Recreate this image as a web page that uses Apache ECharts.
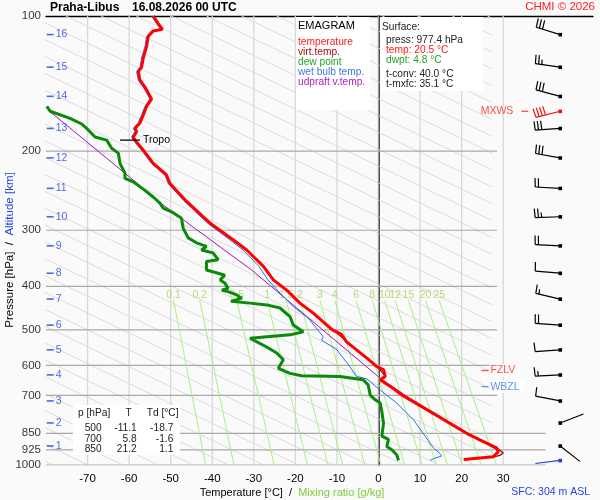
<!DOCTYPE html>
<html lang="cs">
<head>
<meta charset="utf-8">
<title>Emagram Praha-Libus</title>
<style>
  html, body { margin: 0; padding: 0; background: #fafafa; }
  #main { width: 600px; height: 500px; }
</style>
</head>
<body>
<div id="main"></div>
<script src="https://cdn.jsdelivr.net/npm/echarts@6/dist/echarts.min.js"></script>
<script>
// ---- axes / reference values ----
var TEMP_TICKS = [-70, -60, -50, -40, -30, -20, -10, 0, 10, 20, 30];
var PRESS_TICKS = [100, 200, 300, 400, 500, 600, 700, 850, 925, 1000];
var ISOBARS = [200, 300, 400, 500, 600, 700, 850, 925, 1000];
var ISOBAR_END = [28.5, 28.5, 28.5, 28.5, 28.5, 28.5, 40.2, 40.2, 40.2];
var ALT_KM = [1, 2, 3, 4, 5, 6, 7, 8, 9, 10, 11, 12, 13, 14, 15, 16];
var ALT_P = [907, 806, 720, 630, 554, 488, 427, 374, 325, 280, 242, 207, 178, 151, 130, 110];

// mixing ratio lines [g/kg], temperature at 430 hPa and at 1000 hPa
var MIX_LABELS = ['0.1', '0.2', '0.5', '1', '1.5', '2', '3', '4', '6', '8', '10', '12', '15', '20', '25'];
var MIX_TOP_T = [-49.3, -43.0, -34.1, -26.8, -22.2, -18.9, -14.1, -10.5, -5.4, -1.5, 1.5, 4.0, 7.2, 11.3, 14.6];
var MIX_BOT_T = [-41.6, -34.8, -25.1, -17.1, -12.2, -8.6, -3.3, 0.6, 6.3, 10.5, 13.9, 16.6, 20.1, 24.7, 28.4];

// sounding [T degC, p hPa]
var TEMP = [[-54.2,100],[-53,104],[-52,107],[-54.2,108],[-55.4,111],[-55.8,117],[-56.6,124],[-57,130],
  [-57.8,133],[-57.4,139],[-56.2,144],[-54.6,153],[-55.8,159],[-56.6,166],[-57.4,173],[-58.6,178],
  [-58.2,181],[-59,186],[-58.6,189],[-56.6,199],[-54.2,213],[-51,226],[-50.2,236],[-46.5,257],
  [-40.6,289],[-35,315],[-31.7,332],[-27.7,361],[-25.3,387],[-22.1,408],[-18.9,436],[-15.7,459],
  [-13.3,480],[-11.1,500],[-8.9,512],[-7.7,532],[-2.8,578],[-0.4,604],[1.2,613],[1.6,635],[0.4,646],
  [3.0,670],[5.8,700],[10.2,740],[14.4,780],[17.9,815],[21.2,850],[25,885],[28.4,916],[28.8,934],
  [27.6,959],[20.5,972]];
var VIRT = [[-18.8,436],[-11.0,500],[-0.3,604],[1.7,635],[0.5,646],[5.9,700],[21.3,850],[28.5,916],
  [29.3,928],[30.0,940],[29.2,952],[27.7,960],[21.0,973]];
var DEWP = [[-79.8,159],[-79,163],[-74.2,169],[-71.4,174],[-70.2,178],[-68.2,186],[-65.4,189],[-64.2,197],
  [-62.6,202],[-62.2,213],[-61,224],[-61,230],[-59,234],[-56.6,243],[-54.2,253],[-52.6,261],[-51.8,268],
  [-49.8,273],[-47.4,282],[-47,297],[-45.8,312],[-43.8,320],[-41.4,326],[-42.6,332],[-39.8,337],
  [-38.6,349],[-41.4,352],[-41.4,368],[-38.6,374],[-37,378],[-38.1,387],[-37,393],[-36.2,404],
  [-37.7,408],[-36.2,411],[-34.1,418],[-32.9,425],[-35.5,432],[-30.9,436],[-26.9,440],[-23.7,447],
  [-21.3,467],[-20.5,488],[-18.1,505],[-21.3,513],[-30.9,522],[-26.9,546],[-24.5,563],[-22.9,583],
  [-24.1,609],[-21.3,625],[-18.5,633],[-9.3,635],[-3.7,646],[-2.5,663],[-2.0,699],[-0.8,716],
  [0.4,728],[0.8,760],[1.2,808],[0.8,862],[2.4,877],[2.0,909],[3.2,925],[4.4,950],[4.8,977]];
var WETB = [[-54.6,100],[-53.4,104],[-52.4,107],[-54.6,108],[-55.8,111],[-56.2,117],[-57,124],[-57.4,130],
  [-58.2,133],[-57.8,139],[-56.6,144],[-55,153],[-56.2,159],[-57,166],[-57.8,173],[-59,178],[-58.6,181],
  [-59.4,186],[-59,189],[-57,199],[-54.6,213],[-51.4,226],[-50.6,236],[-47,257],[-41.2,289],[-35.8,315],
  [-32.6,332],[-28.8,361],[-26.6,387],[-23.7,414],[-20.5,444],[-17,470],[-13.3,518],[-13.7,527],
  [-10,554],[-6.9,604],[-5.3,635],[-2.8,643],[0.4,681],[4.4,728],[8.4,793],[11.2,862],[13.2,916],
  [14.8,943],[15.2,955],[13.6,965],[12.4,977]];
var PARCEL = [[-79.5,162],[-59,232],[-53.4,257],[-43.8,299],[-30.5,368],[0.4,641],[6.5,700],
  [21.5,850],[28.9,930]];

// wind barbs: pressure, speed [kt], direction [deg]
var BARB_P = [977, 907, 806, 720, 630, 554, 488, 427, 374, 325, 280, 242, 207, 178, 163, 151, 130, 110];
var BARB_KT = [2, 2, 2, 10, 15, 10, 20, 15, 10, 20, 25, 20, 30, 30, 40, 30, 25, 30];
var BARB_DIR = [263, 128, 69, 281, 267, 266, 274, 283, 275, 273, 268, 273, 280, 266, 256, 285, 278, 287];
var BARB_COLOR = ['#1f3fe0', '#000', '#000', '#000', '#000', '#000', '#000', '#000', '#000', '#000',
  '#000', '#000', '#000', '#000', '#f01010', '#000', '#000', '#000'];

var TABLE_P = [500, 700, 850];
var TABLE_T = [-11.1, 5.8, 21.2];
var TABLE_TD = [-18.7, -1.6, 1.1];

var FONT = 'Liberation Sans, Arial, sans-serif';
var BARB_T = 43.7;
var DIAG_DROP = 225, DIAG_STEP = 8.45;

// grey guide lines: temperature where each one meets 1000 hPa
var DIAG_T1000 = [];
for (var t = 251.2; t > -82; t -= DIAG_STEP) DIAG_T1000.push(t);

var chart = echarts.init(document.getElementById('main'));
var series = [];

function seg(data, color, width, opt) {
  var s = {
    type: 'line', data: data, symbol: 'none', silent: true, z: 1,
    xAxisIndex: 0, yAxisIndex: 0,
    lineStyle: { color: color, width: width }
  };
  for (var k in opt) s[k] = opt[k];
  return s;
}

// grey guide lines, clipped to the temperature zone
DIAG_T1000.forEach(function (t) {
  series.push(seg([[t, 1000], [t - DIAG_DROP, 100]], '#dcdcdc', 1, { xAxisIndex: 2, yAxisIndex: 1 }));
});
TEMP_TICKS.forEach(function (t) {
  series.push(seg([[t, 100], [t, 1000]], t === 0 ? '#9c9c9c' : '#d8d8d8', 1.3));
});
ISOBARS.forEach(function (p, i) {
  series.push(seg([[-80, p], [ISOBAR_END[i], p]], '#a9a9a9', 1.2));
});
MIX_LABELS.forEach(function (m, i) {
  series.push(seg([[MIX_TOP_T[i], 430], [MIX_BOT_T[i], 1000]], '#a8f080', 1, { z: 2 }));
});
series.push({
  type: 'scatter', silent: true, symbolSize: 0, z: 2, clip: false,
  data: MIX_LABELS.map(function (m, i) { return { value: [MIX_TOP_T[i], 418], name: m }; }),
  label: { show: true, position: 'inside', formatter: '{b}', color: '#a2d35a', fontSize: 10.5, fontFamily: FONT }
});

// profiles
series.push(seg(PARCEL, '#a414b4', 1, { z: 5 }));
series.push(seg(WETB, '#2f6fe8', 1, { z: 5 }));
series.push(seg(VIRT, '#9a0000', 1.2, { z: 5 }));
series.push(seg(DEWP, '#0a8a0a', 3, { z: 6 }));
series.push(seg(TEMP, '#ff0000', 3, { z: 6 }));

// tropopause marker
series.push(seg([[-62.2, 189], [-57.4, 189]], '#000', 1.2, {
  z: 7,
  endLabel: { show: true, formatter: 'Tropo', color: '#000', fontSize: 10.5, fontFamily: FONT, distance: 3 }
}));

// pressure labels
series.push({
  type: 'scatter', silent: true, symbolSize: 0, clip: false, z: 7,
  data: PRESS_TICKS.map(function (p) { return [-80, p]; }),
  label: { show: true, position: 'left', distance: 5, formatter: function (d) { return d.value[1]; },
    color: '#000', fontSize: 11.5, fontFamily: FONT }
});
// altitude ticks
series.push({
  type: 'scatter', silent: true, clip: false, z: 7, symbol: 'rect', symbolSize: [7, 1.6],
  itemStyle: { color: '#2244dd' },
  data: ALT_P.map(function (p, i) { return { value: [-79.0, p], name: String(ALT_KM[i]) }; }),
  label: { show: true, position: 'right', distance: 2, formatter: '{b}', color: '#2244dd', fontSize: 10.5, fontFamily: FONT }
});
// level markers
function marker(t, p, text, color, pos) {
  return {
    type: 'scatter', silent: true, clip: false, z: 8, symbol: 'rect', symbolSize: [7, 1.3],
    itemStyle: { color: color }, data: [[t, p]],
    label: { show: true, position: pos, distance: pos === 'left' ? 3 : 1, formatter: text, color: color,
      fontSize: 10.5, fontFamily: FONT, backgroundColor: pos === 'left' ? 'transparent' : '#fff', padding: [1, 5, 1, 1] }
  };
}
series.push(marker(25.6, 616, 'FZLV', '#ff2020', 'right'));
series.push(marker(25.6, 669, 'WBZL', '#3a7be0', 'right'));
series.push(marker(35.2, 163, 'MXWS', '#ff2020', 'left'));

// wind barbs
function renderBarb(params, api) {
  var pt = api.coord([api.value(0), api.value(1)]);
  var kt = api.value(2), dir = api.value(3) * Math.PI / 180;
  var color = api.visual('color');
  var ux = Math.sin(dir), uy = -Math.cos(dir);
  var fx = -uy, fy = ux;
  var L = 25, F = 9, gap = 3.3;
  var ex = pt[0] + ux * L, ey = pt[1] + uy * L;
  var st = { stroke: color, lineWidth: 1.2 };
  var children = [
    { type: 'line', shape: { x1: pt[0], y1: pt[1], x2: ex, y2: ey }, style: st },
    { type: 'rect', shape: { x: pt[0] - 1.7, y: pt[1] - 1.7, width: 3.6, height: 3.6 }, style: { fill: color } }
  ];
  var full = Math.floor(kt / 10), half = (kt % 10) >= 5 ? 1 : 0;
  var k = 0;
  for (var i = 0; i < full + half; i++) {
    var len = i < full ? F : F * 0.55;
    var bx = ex - ux * gap * k, by = ey - uy * gap * k;
    children.push({ type: 'line', shape: { x1: bx, y1: by, x2: bx + fx * len + ux * 0.6, y2: by + fy * len + uy * 0.6 }, style: st });
    k++;
  }
  return { type: 'group', children: children };
}
series.push({
  type: 'custom', silent: true, clip: false, z: 8, renderItem: renderBarb,
  data: BARB_P.map(function (p, i) {
    return { value: [BARB_T, p, BARB_KT[i], BARB_DIR[i]], itemStyle: { color: BARB_COLOR[i] } };
  })
});

// text boxes
function txt(x, y, text, color, size, opt) {
  var e = { type: 'text', x: x, y: y, z: 40, silent: true,
    style: { text: text, fill: color, fontSize: size, fontFamily: FONT, verticalAlign: 'middle', align: 'left' } };
  for (var k in opt) e.style[k] = opt[k];
  return e;
}
function box(x, y, w, h) {
  return { type: 'rect', z: 30, silent: true, shape: { x: x, y: y, width: w, height: h }, style: { fill: '#ffffff' } };
}
function fmt(v) { return v.toFixed(1); }

var graphics = [
  box(296, 17, 74, 93),
  box(380, 17, 103, 74),
  box(73, 405, 107, 50),
  txt(50, 8, 'Praha-Libus', '#000', 12, { fontWeight: 'bold' }),
  txt(132, 8, '16.08.2026 00 UTC', '#000', 12, { fontWeight: 'bold' }),
  txt(595, 7, 'CHMI \u00a9 2026', '#ff1a1a', 11.5, { align: 'right' }),
  txt(298, 26, 'EMAGRAM', '#000', 11),
  txt(298, 41.7, 'temperature', '#ff1a1a', 10.2),
  txt(298, 51.7, 'virt.temp.', '#a01010', 10.2),
  txt(298, 61.7, 'dew point', '#28a028', 10.2),
  txt(298, 71.7, 'wet bulb temp.', '#3a7be0', 10.2),
  txt(298, 81.7, 'udpraft v.temp.', '#b020c0', 10.2),
  txt(382, 27, 'Surface:', '#222', 10.2),
  txt(386, 40, 'press: 977.4 hPa', '#222', 10.2),
  txt(386, 50, 'temp: 20.5 \u00b0C', '#ff1a1a', 10.2),
  txt(386, 60, 'dwpt: 4.8 \u00b0C', '#28a028', 10.2),
  txt(386, 74, 't-conv: 40.0 \u00b0C', '#222', 10.2),
  txt(386, 84, 't-mxfc: 35.1 \u00b0C', '#222', 10.2),
  txt(78, 413.5, 'p [hPa]', '#222', 10.2),
  txt(128.7, 413.5, 'T', '#222', 10.2, { align: 'center' }),
  txt(146.7, 413.5, 'Td [\u00b0C]', '#222', 10.2),
  txt(590, 492, 'SFC: 304 m ASL', '#2244dd', 10.5, { align: 'right' }),
  {
    type: 'text', x: 292, y: 493, z: 40, silent: true,
    style: { text: '{a|Temperature [\u00b0C]  /  }{b|Mixing ratio [g/kg]}', align: 'center', verticalAlign: 'middle',
      fontSize: 11, fontFamily: FONT,
      rich: { a: { fill: '#000', fontSize: 11, fontFamily: FONT }, b: { fill: '#7ccf3c', fontSize: 11, fontFamily: FONT } } }
  },
  {
    type: 'text', x: 10, y: 250, z: 40, silent: true, rotation: Math.PI / 2,
    style: { text: '{a|Pressure [hPa]  /  }{b|Altitude [km]}', align: 'center', verticalAlign: 'middle',
      fontSize: 11.5, fontFamily: FONT,
      rich: { a: { fill: '#000', fontSize: 11.5, fontFamily: FONT }, b: { fill: '#2244dd', fontSize: 11.5, fontFamily: FONT } } }
  }
];
TABLE_P.forEach(function (p, i) {
  var y = 428.3 + i * 10.4;
  graphics.push(txt(101.7, y, String(p), '#222', 10.2, { align: 'right' }));
  graphics.push(txt(136.7, y, fmt(TABLE_T[i]), '#222', 10.2, { align: 'right' }));
  graphics.push(txt(173.3, y, fmt(TABLE_TD[i]), '#222', 10.2, { align: 'right' }));
});

chart.setOption({
  backgroundColor: '#fafafa',
  animation: false,
  grid: [
    { left: 46, right: 7, top: 16, bottom: 35 },
    { left: 46, right: 109.25, top: 16, bottom: 35 }
  ],
  xAxis: [
    { type: 'value', gridIndex: 0, min: -80, max: 51.6, interval: 10, position: 'bottom',
      axisLine: { show: false }, axisTick: { show: false }, splitLine: { show: false },
      axisLabel: { margin: 8, color: '#000', fontSize: 11.5, fontFamily: FONT,
        formatter: function (v) { return TEMP_TICKS.indexOf(v) >= 0 ? String(v) : ''; } } },
    { type: 'value', gridIndex: 0, min: -80, max: 51.6, position: 'top',
      axisLine: { show: true, lineStyle: { color: '#000', width: 1.3 } },
      axisTick: { show: false }, axisLabel: { show: false }, splitLine: { show: false } },
    { type: 'value', gridIndex: 1, min: -80, max: 27, show: false }
  ],
  yAxis: [
    { type: 'log', logBase: 10, gridIndex: 0, min: 100, max: 1000, inverse: true,
      axisLine: { show: true, lineStyle: { color: '#000', width: 1.5 } },
      axisTick: { show: false }, axisLabel: { show: false }, splitLine: { show: false } },
    { type: 'log', logBase: 10, gridIndex: 1, min: 100, max: 1000, inverse: true, show: false }
  ],
  graphic: { elements: graphics },
  series: series
});
</script>
</body>
</html>
